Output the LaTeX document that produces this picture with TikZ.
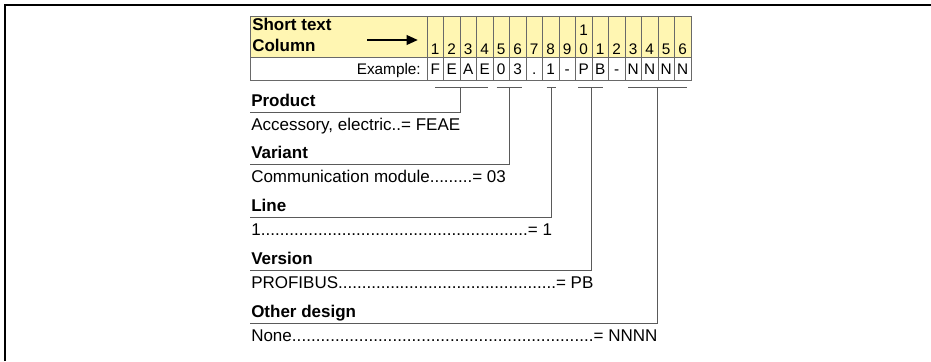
\documentclass[tikz,border=0pt]{standalone}
\usepackage{fontspec}
\setmainfont{Liberation Sans}
\usetikzlibrary{arrows.meta}
\definecolor{hdryellow}{RGB}{255,246,178}
\definecolor{gridgray}{RGB}{105,105,105}
\definecolor{conngray}{RGB}{90,90,90}
\newcommand\dotsto[3]{\makebox[#1][l]{#2\xleaders\hbox{.}\hfill#3}}
\begin{document}
\begin{tikzpicture}[x=0.75pt,y=-0.75pt,
  body/.style={font=\fontsize{12.75}{15}\selectfont, inner sep=0pt, anchor=base west},
  head/.style={font=\fontsize{12.75}{15}\selectfont\bfseries, inner sep=0pt, anchor=base west},
  cell/.style={font=\fontsize{11.5}{13}\selectfont, inner sep=0pt, anchor=base},
  conn/.style={draw=conngray, line width=0.6pt},
  gridline/.style={draw=gridgray, line width=0.6pt}]
\useasboundingbox (0,0) rectangle (931,361);
% outer frame (open at right and bottom)
\draw[line width=1.5pt] (4.5,361) -- (4.5,4.5) -- (931,4.5);
% table
\fill[hdryellow] (250,16) rectangle (691,57);
\draw[gridline] (250,16) rectangle (691,80);
\draw[gridline] (250,57) -- (691,57);
\foreach \i in {0,...,15} \draw[gridline] (427+16.5*\i,16) -- (427+16.5*\i,80);
\node[head] (short) at (252,30.7) {Short text};
\node[head] (column) at (252,51) {Column};
\coordinate (arS) at (367,40);
\coordinate (arE) at (418,40);
\draw[line width=1.9pt, -{Triangle[length=8.5pt,width=7pt]}] (arS) -- (arE);
\foreach \d [count=\i] in {1,2,3,4,5,6,7,8,9,0,1,2,3,4,5,6}
  \node[cell] (n\i) at (427+16.5*\i-8.25,54.5) {\d};
\node[cell] (n10top) at (427+16.5*10-8.25,35.5) {1};
\node[cell, anchor=base east] (example) at (421,74) {Example:};
\foreach \d [count=\i] in {F,E,A,E,0,3,.,1,-,P,B,-,N,N,N,N}
  \node[cell] (e\i) at (427+16.5*\i-8.25,74) {\d};
% brackets and connectors
\foreach \a/\b/\m/\u/\n in {435/488/460/112.5/1, 496.7/521.7/509.5/164.5/2,
    546.7/556/551.5/217.5/3, 578/603/591.5/270.5/4, 628/686.7/657.5/323.5/5} {
  \coordinate (bl\n) at (\a,87);
  \coordinate (br\n) at (\b,87);
  \coordinate (bm\n) at (\m,87);
  \coordinate (ul\n) at (250,\u);
  \draw[conn] (bl\n) -- (br\n);
  \draw[conn] (bm\n) |- (ul\n);
}
% headings and values
\node[head] (h1) at (251,106.5) {Product};
\node[body] (v1) at (251,130) {Accessory, electric..= FEAE};
\node[head] (h2) at (251,158.5) {Variant};
\node[body] (v2) at (251,182) {Communication module.........= 03};
\node[head] (h3) at (251,211.5) {Line};
\node[body] (v3) at (251,235) {\dotsto{225.5pt}{1}{= 1}};
\node[head] (h4) at (251,264.5) {Version};
\node[body] (v4) at (251,288) {\dotsto{256.5pt}{PROFIBUS}{= PB}};
\node[head] (h5) at (251,317.5) {Other design};
\node[body] (v5) at (251,341) {\dotsto{304.5pt}{None}{= NNNN}};
\end{tikzpicture}
\end{document}
